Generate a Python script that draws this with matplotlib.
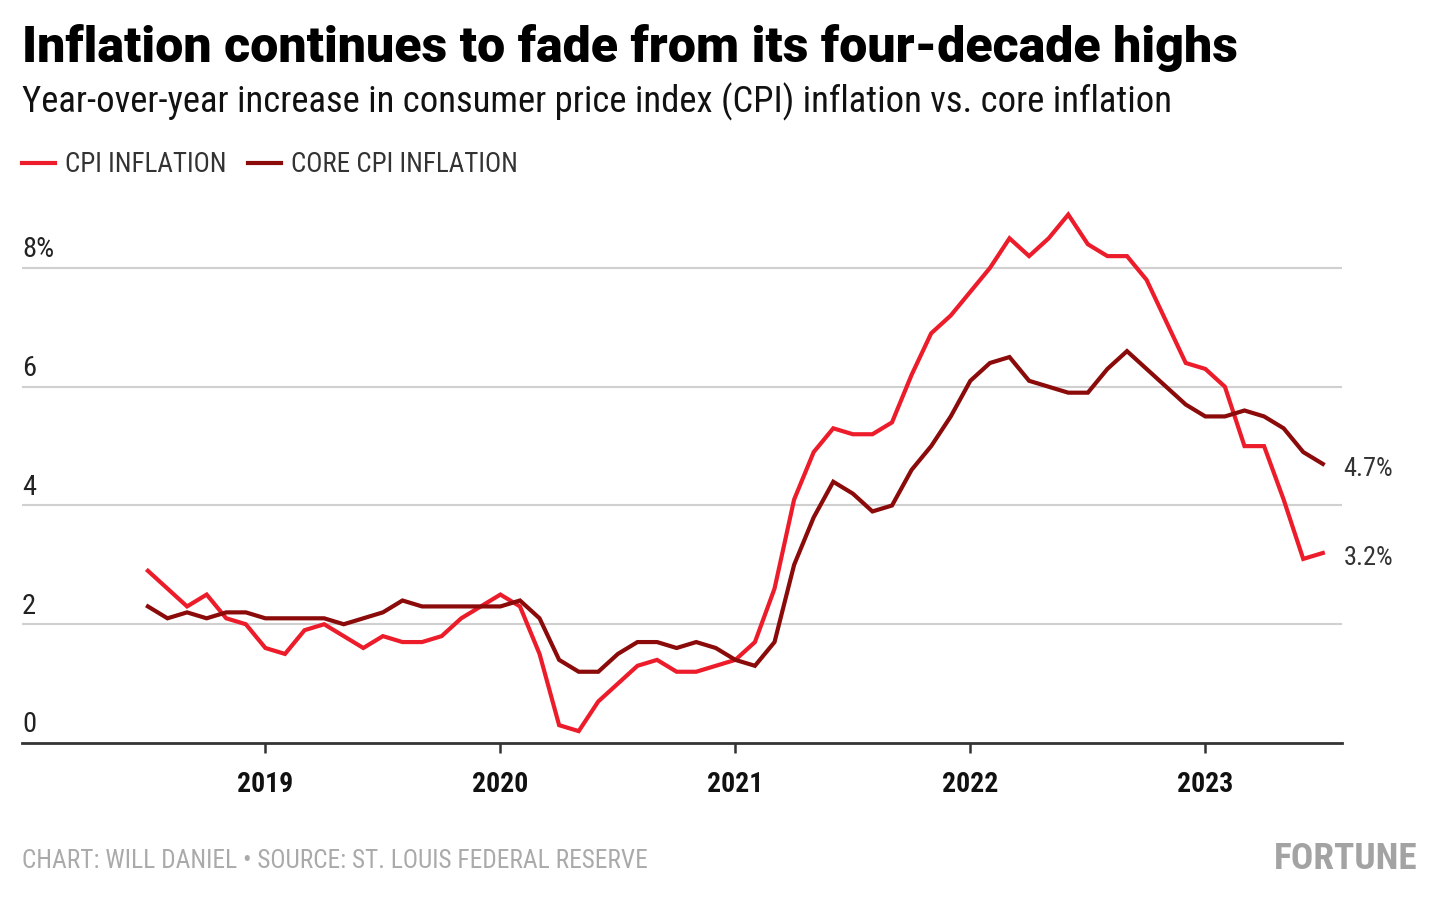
import matplotlib
matplotlib.use('Agg')
import matplotlib.pyplot as plt
from matplotlib import font_manager
from matplotlib.transforms import blended_transform_factory

# monthly, Jul 2018 - Jul 2023
cpi = [2.9, 2.6, 2.3, 2.5, 2.1, 2.0,
       1.6, 1.5, 1.9, 2.0, 1.8, 1.6, 1.8, 1.7, 1.7, 1.8, 2.1, 2.3,
       2.5, 2.3, 1.5, 0.3, 0.2, 0.7, 1.0, 1.3, 1.4, 1.2, 1.2, 1.3,
       1.4, 1.7, 2.6, 4.1, 4.9, 5.3, 5.2, 5.2, 5.4, 6.2, 6.9, 7.2,
       7.6, 8.0, 8.5, 8.2, 8.5, 8.9, 8.4, 8.2, 8.2, 7.8, 7.1, 6.4,
       6.3, 6.0, 5.0, 5.0, 4.1, 3.1, 3.2]
core = [2.3, 2.1, 2.2, 2.1, 2.2, 2.2,
        2.1, 2.1, 2.1, 2.1, 2.0, 2.1, 2.2, 2.4, 2.3, 2.3, 2.3, 2.3,
        2.3, 2.4, 2.1, 1.4, 1.2, 1.2, 1.5, 1.7, 1.7, 1.6, 1.7, 1.6,
        1.4, 1.3, 1.7, 3.0, 3.8, 4.4, 4.2, 3.9, 4.0, 4.6, 5.0, 5.5,
        6.1, 6.4, 6.5, 6.1, 6.0, 5.9, 5.9, 6.3, 6.6, 6.3, 6.0, 5.7,
        5.5, 5.5, 5.6, 5.5, 5.3, 4.9, 4.7]
months = list(range(len(cpi)))
year_pos = [6, 18, 30, 42, 54]
year_labels = ['2019', '2020', '2021', '2022', '2023']
y_ticks = [0, 2, 4, 6, 8]
y_labels = ['0', '2', '4', '6', '8%']

RED = '#ec1c2a'
DARK = '#8b0a0a'
W, H = 1439, 902

names = {f.name for f in font_manager.fontManager.ttflist}
cond = 'DejaVu Sans'
for n in ['Roboto Condensed', 'Liberation Sans Narrow', 'Open Sans Condensed']:
    if n in names:
        cond = n
        break
heavy = 'Roboto' if 'Roboto' in names else 'DejaVu Sans'
COND = dict(family=cond, stretch='condensed')

fig = plt.figure(figsize=(W / 100, H / 100), dpi=100)
renderer = fig.canvas.get_renderer()


def fit(t, width_px):
    # scale font so the text spans the wanted pixel width
    bb = t.get_window_extent(renderer=renderer)
    t.set_fontsize(t.get_fontsize() * width_px / bb.width)
    return t


ax = fig.add_axes([22 / W, (H - 743) / H, 1320 / W, (743 - 190.8) / H])
ax.plot(months, cpi, color=RED, lw=3, label='CPI INFLATION', solid_joinstyle='miter')
ax.plot(months, core, color=DARK, lw=3, label='CORE CPI INFLATION', solid_joinstyle='miter')

ax.set_xlim(-6.43, 60.98)
ax.set_ylim(0, 9.3)
for s in ['top', 'right', 'left']:
    ax.spines[s].set_visible(False)
ax.spines['bottom'].set_color('#333333')
ax.spines['bottom'].set_linewidth(2)
ax.set_yticks([])
for v in y_ticks[1:]:
    ax.axhline(v, color='#d0d0d0', lw=1.5, zorder=0)

ax.set_xticks(year_pos)
ax.set_xticklabels(year_labels, fontdict=dict(family=cond, weight='bold', size=20, color='#111111'))
ax.tick_params(axis='x', length=7.5, width=1.8, color='#333333', pad=13)

tr = blended_transform_factory(ax.transAxes, ax.transData)
for v, lab in zip(y_ticks, y_labels):
    ax.text(0, v + 0.18, lab, transform=tr, ha='left', va='baseline',
            fontsize=20.5, color='#222222', **COND)

ax.text(1.001, core[-1] - 0.09, '4.7%', transform=tr, ha='left', va='center',
        fontsize=19, color='#333333', **COND)
ax.text(1.001, cpi[-1] - 0.09, '3.2%', transform=tr, ha='left', va='center',
        fontsize=19, color='#333333', **COND)

t = fig.text(22 / W, 1 - 62 / H, 'Inflation continues to fade from its four-decade highs',
             fontsize=32, weight='black', family=heavy, color='#000000', va='baseline')
fit(t, 1216)
t = fig.text(22 / W, 1 - 112 / H, 'Year-over-year increase in consumer price index (CPI) inflation vs. core inflation',
             fontsize=24, color='#111111', va='baseline', **COND)
fit(t, 1151)

probe = fig.text(0, 0, 'CPI INFLATION', fontsize=20, **COND)
fit(probe, 162)
leg_size = probe.get_fontsize()
probe.remove()
ax.legend(loc='center left', bbox_to_anchor=(22 / W, 1 - 164.5 / H), bbox_transform=fig.transFigure,
          ncol=2, frameon=False, prop=dict(family=cond, stretch='condensed', size=leg_size),
          labelcolor='#333333', handlelength=33 / (leg_size * 1.389), handletextpad=10 / (leg_size * 1.389),
          columnspacing=22 / (leg_size * 1.389), borderpad=0, borderaxespad=0)

t = fig.text(22 / W, 1 - 868 / H, 'CHART: WILL DANIEL \u2022 SOURCE: ST. LOUIS FEDERAL RESERVE',
             fontsize=17, color='#aaaaaa', va='baseline', **COND)
fit(t, 625)
t = fig.text(1418 / W, 1 - 869 / H, 'FORTUNE', fontsize=34, weight='bold', color='#a3a3a3',
             ha='right', va='baseline', **COND)
fit(t, 144)

fig.savefig('out.png', dpi=100)
